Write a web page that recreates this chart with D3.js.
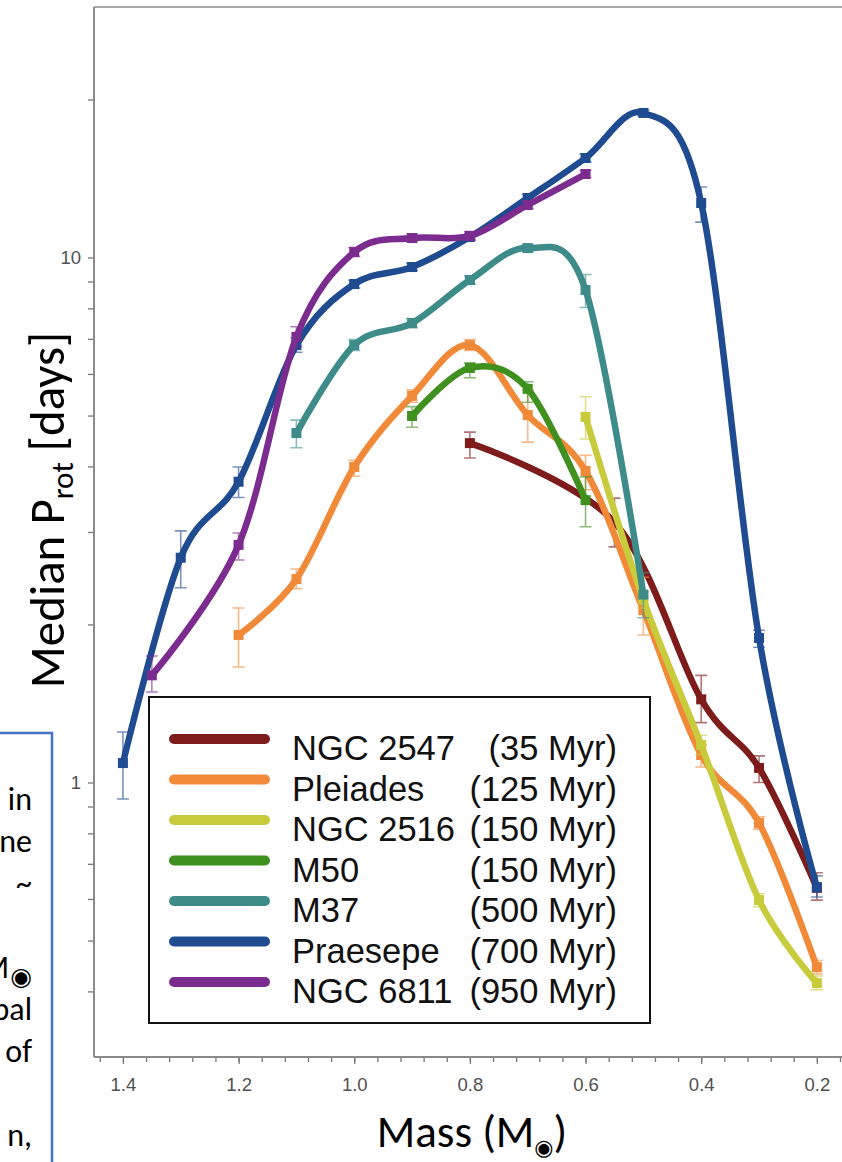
<!DOCTYPE html>
<html>
<head>
<meta charset="utf-8">
<script src="https://cdn.jsdelivr.net/npm/d3@7"></script>
<style>
  body { margin: 0; background: #fff; }
  svg { display: block; }
  .tick text { font-family: "Liberation Sans", Arial, sans-serif; fill: #505050; }
</style>
</head>
<body>
<svg id="chart" width="842" height="1162"></svg>
<script>
// legend order: cluster name, age, colour
const clusterNames = ["NGC 2547", "Pleiades", "NGC 2516", "M50", "M37", "Praesepe", "NGC 6811"];
const clusterAges = ["(35 Myr)", "(125 Myr)", "(150 Myr)", "(150 Myr)", "(500 Myr)", "(700 Myr)", "(950 Myr)"];
const clusterColors = ["#7e1b1b", "#f08a38", "#c8cc3c", "#3f901f", "#3d8c8a", "#1f4b91", "#7c2c8f"];

// mass bins (M_sun), median period (days), error bar low / high (days)
const massNGC2547 = [0.8, 0.55, 0.4, 0.3, 0.2];
const protNGC2547 = [4.43, 3.13, 1.44, 1.066, 0.63];
const loNGC2547 = [4.15, 2.81, 1.30, 1.0, 0.597];
const hiNGC2547 = [4.65, 3.48, 1.60, 1.124, 0.673];

const massPleiades = [1.2, 1.1, 1.0, 0.9, 0.8, 0.7, 0.6, 0.5, 0.4, 0.3, 0.2];
const protPleiades = [1.91, 2.44, 3.99, 5.45, 6.81, 5.01, 3.92, 2.13, 1.128, 0.837, 0.445];
const loPleiades = [1.66, 2.34, 3.83, 5.3, 6.65, 4.45, 3.61, 1.91, 1.07, 0.815, 0.432];
const hiPleiades = [2.15, 2.55, 4.11, 5.6, 6.98, 5.59, 4.20, 2.46, 1.18, 0.86, 0.458];

const massNGC2516 = [0.6, 0.5, 0.4, 0.3, 0.2];
const protNGC2516 = [4.97, 2.23, 1.179, 0.597, 0.415];
const loNGC2516 = [4.51, 2.15, 1.13, 0.58, 0.403];
const hiNGC2516 = [5.43, 2.31, 1.23, 0.614, 0.428];

const massM50 = [0.9, 0.8, 0.7, 0.6];
const protM50 = [4.99, 6.16, 5.62, 3.45];
const loM50 = [4.75, 5.9, 5.3, 3.07];
const hiM50 = [5.2, 6.3, 5.8, 3.82];

const massM37 = [1.1, 1.0, 0.9, 0.8, 0.7, 0.6, 0.5];
const protM37 = [4.63, 6.81, 7.5, 9.06, 10.42, 8.67, 2.28];
const loM37 = [4.34, 6.65, 7.35, 8.9, 10.25, 8.03, 2.06];
const hiM37 = [4.90, 6.98, 7.65, 9.22, 10.6, 9.28, 2.51];

const massPraesepe = [1.4, 1.3, 1.2, 1.1, 1.0, 0.9, 0.8, 0.7, 0.6, 0.5, 0.4, 0.3, 0.2];
const protPraesepe = [1.089, 2.68, 3.74, 6.81, 8.9, 9.59, 10.94, 12.98, 15.47, 18.85, 12.7, 1.885, 0.632];
const loPraesepe = [0.93, 2.35, 3.49, 6.6, 8.75, 9.45, 10.8, 12.8, 15.2, 18.6, 11.68, 1.81, 0.605];
const hiPraesepe = [1.248, 3.015, 3.99, 7.02, 9.05, 9.75, 11.1, 13.2, 15.75, 19.1, 13.62, 1.95, 0.664];

const massNGC6811 = [1.35, 1.2, 1.1, 1.0, 0.9, 0.8, 0.7, 0.6];
const protNGC6811 = [1.60, 2.835, 7.06, 10.24, 10.89, 10.99, 12.59, 14.42];
const loNGC6811 = [1.487, 2.653, 6.77, 10.05, 10.7, 10.8, 12.4, 14.2];
const hiNGC6811 = [1.741, 2.986, 7.38, 10.45, 11.1, 11.2, 12.8, 14.65];

// axis ticks
const xMajorTicks = [1.4, 1.2, 1.0, 0.8, 0.6, 0.4, 0.2];
const xMinorTicks = d3.range(1.44, 0.15, -0.04).map(v => +v.toFixed(2));
const yMajorTicks = [1, 10];
const yMinorTicks = [0.4, 0.5, 0.6, 0.7, 0.8, 0.9, 2, 3, 4, 5, 6, 7, 8, 9, 20];

// left text box fragments (clipped by the page edge)
const sideText = ["in", "ne", "~", "M", "bal", "of", "", "n,"];

const seriesMass = [massNGC2547, massPleiades, massNGC2516, massM50, massM37, massPraesepe, massNGC6811];
const seriesProt = [protNGC2547, protPleiades, protNGC2516, protM50, protM37, protPraesepe, protNGC6811];
const seriesLo = [loNGC2547, loPleiades, loNGC2516, loM50, loM37, loPraesepe, loNGC6811];
const seriesHi = [hiNGC2547, hiPleiades, hiNGC2516, hiM50, hiM37, hiPraesepe, hiNGC6811];

const series = clusterNames.map((name, i) => ({
  name: name,
  age: clusterAges[i],
  color: clusterColors[i],
  points: seriesMass[i].map((m, j) => ({ m: m, p: seriesProt[i][j], lo: seriesLo[i][j], hi: seriesHi[i][j] }))
}));

const svg = d3.select("#chart");
const plotLeft = 94, plotTop = 7, plotBottom = 1057, plotRight = 842;
const sunSymbol = "\u25C9";

const x = d3.scaleLinear().domain([1.45, 0.15]).range([plotLeft, plotLeft + 1.3 * 578.3]);
const y = d3.scaleLog().domain([0.3, 30]).range([plotBottom, plotTop]);

// frame top line
svg.append("line").attr("x1", plotLeft).attr("x2", plotRight).attr("y1", plotTop).attr("y2", plotTop)
  .attr("stroke", "#a8a8a8").attr("stroke-width", 2);

// y axis
const gyMinor = svg.append("g").attr("transform", `translate(${plotLeft},0)`)
  .call(d3.axisLeft(y).tickValues(yMinorTicks).tickSize(6).tickSizeOuter(0).tickFormat(""));
const gyMajor = svg.append("g").attr("transform", `translate(${plotLeft},0)`)
  .call(d3.axisLeft(y).tickValues(yMajorTicks).tickSize(6).tickSizeOuter(0).tickPadding(7).tickFormat(d3.format("d")));
// x axis
const gxMinor = svg.append("g").attr("transform", `translate(0,${plotBottom})`)
  .call(d3.axisBottom(x).tickValues(xMinorTicks).tickSize(5).tickSizeOuter(0).tickFormat(""));
const gxMajor = svg.append("g").attr("transform", `translate(0,${plotBottom})`)
  .call(d3.axisBottom(x).tickValues(xMajorTicks).tickSize(7).tickSizeOuter(0).tickPadding(14).tickFormat(d3.format(".1f")));

[gyMinor, gyMajor, gxMinor, gxMajor].forEach(g => {
  g.select(".domain").remove();
  g.selectAll(".tick line").attr("stroke", "#777").attr("stroke-width", 1.3);
  g.selectAll(".tick text").attr("font-size", 18.5);
});
svg.append("line").attr("x1", plotLeft).attr("x2", plotLeft).attr("y1", plotTop).attr("y2", plotBottom)
  .attr("stroke", "#8a8a8a").attr("stroke-width", 2);
svg.append("line").attr("x1", plotLeft).attr("x2", plotRight).attr("y1", plotBottom).attr("y2", plotBottom)
  .attr("stroke", "#8a8a8a").attr("stroke-width", 2);

// smooth lines like the spreadsheet "smoothed line" option
const line = d3.line().x(d => x(d.m)).y(d => y(d.p)).curve(d3.curveCardinal.tension(0));

const plot = svg.append("g");
series.forEach(s => {
  const g = plot.append("g");
  // error bars
  g.selectAll(".err").data(s.points).enter().append("path")
    .attr("d", d => {
      const cx = x(d.m), y1 = y(d.hi), y2 = y(d.lo);
      return `M${cx - 6},${y1}H${cx + 6}M${cx},${y1}V${y2}M${cx - 6},${y2}H${cx + 6}`;
    })
    .attr("fill", "none").attr("stroke", s.color).attr("stroke-opacity", 0.6).attr("stroke-width", 1.6);
  g.append("path").datum(s.points).attr("d", line)
    .attr("fill", "none").attr("stroke", s.color).attr("stroke-width", 6.5)
    .attr("stroke-linejoin", "round").attr("stroke-linecap", "round");
  g.selectAll(".mk").data(s.points).enter().append("rect")
    .attr("x", d => x(d.m) - 5).attr("y", d => y(d.p) - 5)
    .attr("width", 10).attr("height", 10).attr("fill", s.color);
});

// legend
const legend = svg.append("g");
legend.append("rect").attr("x", 149).attr("y", 697).attr("width", 501).attr("height", 326)
  .attr("fill", "#fff").attr("stroke", "#111").attr("stroke-width", 2);
series.forEach((s, i) => {
  const ly = 739 + i * 40.5;
  legend.append("line").attr("x1", 174).attr("x2", 265).attr("y1", ly).attr("y2", ly)
    .attr("stroke", s.color).attr("stroke-width", 10).attr("stroke-linecap", "round");
  legend.append("text").attr("x", 292).attr("y", ly + 21)
    .attr("font-family", "'Liberation Sans', Arial, sans-serif").attr("font-size", 34.5).attr("fill", "#111")
    .text(s.name);
  legend.append("text").attr("x", 617).attr("y", ly + 21).attr("text-anchor", "end")
    .attr("font-family", "'Liberation Sans', Arial, sans-serif").attr("font-size", 34.5).attr("fill", "#111")
    .text(s.age);
});

// axis titles
const titleFont = "Carlito, Lato, 'Open Sans', sans-serif";
const yt = svg.append("text").attr("transform", "translate(64,510) rotate(-90)")
  .attr("text-anchor", "middle").attr("font-family", titleFont).attr("font-size", 49).attr("fill", "#000");
yt.append("tspan").text("Median P");
yt.append("tspan").attr("font-size", 31).attr("dy", 9).text("rot");
yt.append("tspan").attr("dy", -9).text(" [days]");

const xt = svg.append("text").attr("x", 472).attr("y", 1147)
  .attr("text-anchor", "middle").attr("font-family", titleFont).attr("font-size", 45).attr("fill", "#000");
xt.append("tspan").text("Mass (M");
xt.append("tspan").attr("font-family", "'DejaVu Sans', sans-serif").attr("font-size", 22).attr("dy", 8).text(sunSymbol);
xt.append("tspan").attr("dy", -8).text(")");

// left text box (partly outside the page)
const side = svg.append("g");
side.append("rect").attr("x", -10).attr("y", 733).attr("width", 62).attr("height", 450)
  .attr("fill", "#fff").attr("stroke", "#4472c4").attr("stroke-width", 2.5);
sideText.forEach((t, i) => {
  if (!t) return;
  const by = 810 + i * 42 + (i >= 3 ? 42 : 0);
  const tx = side.append("text").attr("x", 32).attr("y", by)
    .attr("text-anchor", "end").attr("font-family", titleFont).attr("font-size", 32).attr("fill", "#000").text(t);
  if (t === "M") {
    tx.append("tspan").attr("font-family", "'DejaVu Sans', sans-serif").attr("font-size", 25)
      .attr("dx", 1).attr("dy", 7).text(sunSymbol);
  }
});
</script>
</body>
</html>
